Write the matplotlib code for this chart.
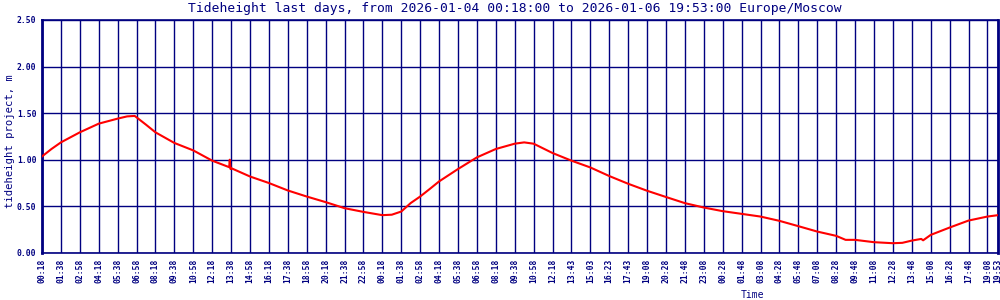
import numpy as np
import matplotlib.pyplot as plt

# Tick labels along the time axis (one every 16 samples, last one is the end time)
tick_labels = [
    '00:18', '01:38', '02:58', '04:18', '05:38', '06:58', '08:18', '09:38',
    '10:58', '12:18', '13:38', '14:58', '16:18', '17:38', '18:58', '20:18',
    '21:38', '22:58', '00:18', '01:38', '02:58', '04:18', '05:38', '06:58',
    '08:18', '09:38', '10:58', '12:18', '13:43', '15:03', '16:23', '17:43',
    '19:08', '20:28', '21:48', '23:08', '00:28', '01:48', '03:08', '04:28',
    '05:48', '07:08', '08:28', '09:48', '11:08', '12:28', '13:48', '15:08',
    '16:28', '17:48', '19:08', '19:53',
]
tick_pos = list(range(51)) + [50.56]

# Tide height samples, position in tick units
pos = [0, 0.5, 1, 2, 3, 4, 4.5, 4.9, 5, 5.5, 6, 7, 8, 9, 9.9, 9.93, 9.97, 10,
       11, 12, 13, 14, 15, 16, 17, 18, 18.5, 19, 19.5, 20, 20.5, 21, 22, 23,
       24, 25, 25.5, 26, 27, 28, 29, 30, 31, 32, 33, 34, 35, 36, 37, 38, 39,
       40, 41, 42, 42.5, 43, 44, 45, 45.5, 46, 46.5, 46.6, 47, 48, 49, 50,
       50.56]
height = [1.035, 1.115, 1.186, 1.294, 1.387, 1.441, 1.465, 1.47, 1.455, 1.376,
          1.294, 1.18, 1.10, 0.99, 0.92, 1.0, 0.90, 0.91,
          0.82, 0.75, 0.67, 0.605, 0.545, 0.48, 0.44, 0.405, 0.41, 0.444,
          0.535, 0.605, 0.685, 0.767, 0.90, 1.025,
          1.115, 1.172, 1.186, 1.172, 1.072, 0.99, 0.917, 0.825, 0.742, 0.667,
          0.60, 0.534, 0.487, 0.448, 0.419, 0.39, 0.344,
          0.287, 0.229, 0.183, 0.14, 0.14, 0.115, 0.104, 0.108, 0.132, 0.15,
          0.135, 0.193, 0.272, 0.347, 0.39,
          0.405]

NAVY = '#000080'
MONO = 'DejaVu Sans Mono'

fig = plt.figure(figsize=(10, 3), dpi=100)
ax = fig.add_axes([0.042, 0.157, 0.956, 0.7765])

ax.plot(pos, height, color='#ff0000', lw=1.5, zorder=3)

ax.set_xlim(0, 50.56)
ax.set_ylim(0, 2.5)
ax.set_xticks(tick_pos)
ax.set_xticklabels(tick_labels, rotation=90, fontsize=5.8, fontweight='bold',
                   family=MONO, color=NAVY)
yt = [0, 0.5, 1.0, 1.5, 2.0, 2.5]
ax.set_yticks(yt)
ax.set_yticklabels(['%.2f' % v for v in yt], fontsize=5.8, fontweight='bold',
                   family=MONO, color=NAVY)
ax.tick_params(length=0, pad=4)

ax.grid(True, color=NAVY, lw=1.0, zorder=1)
for side in ['left', 'right']:
    ax.spines[side].set_color(NAVY)
    ax.spines[side].set_linewidth(2)
for side in ['top', 'bottom']:
    ax.spines[side].set_color(NAVY)
    ax.spines[side].set_linewidth(1.2)

ax.set_ylabel('tideheight project, m', fontsize=7.6, family=MONO, color=NAVY)
ax.yaxis.set_label_coords(-0.028, 0.48)
ax.set_xlabel('Time', fontsize=7, family=MONO, color=NAVY)
ax.xaxis.set_label_coords(0.743, -0.16)

fig.text(0.515, 0.972,
         'Tideheight last days, from 2026-01-04 00:18:00 to 2026-01-06 19:53:00 Europe/Moscow',
         ha='center', va='center', fontsize=9.4, family=MONO, color=NAVY)

fig.savefig('out.png', dpi=100)
